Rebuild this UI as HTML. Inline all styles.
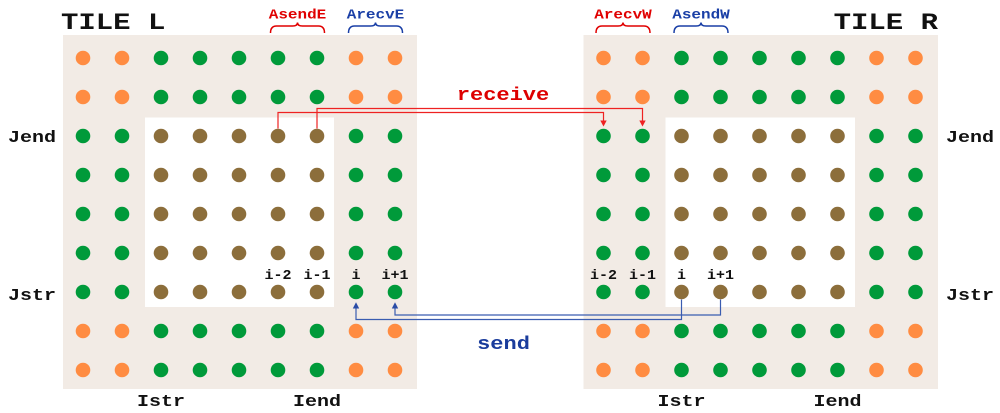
<!DOCTYPE html>
<html>
<head>
<meta charset="utf-8">
<style>
html,body{margin:0;padding:0;background:#fff;}
svg{display:block;}
text{font-family:"Liberation Mono","DejaVu Sans Mono",monospace;font-weight:bold;}
</style>
</head>
<body>
<svg width="1000" height="413" viewBox="0 0 1000 413" xmlns="http://www.w3.org/2000/svg">
  <!-- tile backgrounds -->
  <rect x="63" y="35" width="354" height="354" fill="#f2ebe5"/>
  <rect x="583.5" y="35" width="354.5" height="354" fill="#f2ebe5"/>
  <!-- inner white boxes -->
  <rect x="145" y="117.5" width="189" height="189.5" fill="#fff"/>
  <rect x="665.5" y="117.5" width="189.5" height="189.5" fill="#fff"/>

  <g id="dots">
  <g fill="#ff8c42">
    <circle cx="83" cy="58" r="7.3"/><circle cx="122" cy="58" r="7.3"/><circle cx="356" cy="58" r="7.3"/><circle cx="395" cy="58" r="7.3"/>
    <circle cx="83" cy="97" r="7.3"/><circle cx="122" cy="97" r="7.3"/><circle cx="356" cy="97" r="7.3"/><circle cx="395" cy="97" r="7.3"/>
    <circle cx="83" cy="331" r="7.3"/><circle cx="122" cy="331" r="7.3"/><circle cx="356" cy="331" r="7.3"/><circle cx="395" cy="331" r="7.3"/>
    <circle cx="83" cy="370" r="7.3"/><circle cx="122" cy="370" r="7.3"/><circle cx="356" cy="370" r="7.3"/><circle cx="395" cy="370" r="7.3"/>
  </g>
  <g fill="#009a3a">
    <circle cx="161" cy="58" r="7.3"/><circle cx="200" cy="58" r="7.3"/><circle cx="239" cy="58" r="7.3"/><circle cx="278" cy="58" r="7.3"/><circle cx="317" cy="58" r="7.3"/>
    <circle cx="161" cy="97" r="7.3"/><circle cx="200" cy="97" r="7.3"/><circle cx="239" cy="97" r="7.3"/><circle cx="278" cy="97" r="7.3"/><circle cx="317" cy="97" r="7.3"/>
    <circle cx="161" cy="331" r="7.3"/><circle cx="200" cy="331" r="7.3"/><circle cx="239" cy="331" r="7.3"/><circle cx="278" cy="331" r="7.3"/><circle cx="317" cy="331" r="7.3"/>
    <circle cx="161" cy="370" r="7.3"/><circle cx="200" cy="370" r="7.3"/><circle cx="239" cy="370" r="7.3"/><circle cx="278" cy="370" r="7.3"/><circle cx="317" cy="370" r="7.3"/>
    <circle cx="83" cy="136" r="7.3"/><circle cx="122" cy="136" r="7.3"/><circle cx="356" cy="136" r="7.3"/><circle cx="395" cy="136" r="7.3"/>
    <circle cx="83" cy="175" r="7.3"/><circle cx="122" cy="175" r="7.3"/><circle cx="356" cy="175" r="7.3"/><circle cx="395" cy="175" r="7.3"/>
    <circle cx="83" cy="214" r="7.3"/><circle cx="122" cy="214" r="7.3"/><circle cx="356" cy="214" r="7.3"/><circle cx="395" cy="214" r="7.3"/>
    <circle cx="83" cy="253" r="7.3"/><circle cx="122" cy="253" r="7.3"/><circle cx="356" cy="253" r="7.3"/><circle cx="395" cy="253" r="7.3"/>
    <circle cx="83" cy="292" r="7.3"/><circle cx="122" cy="292" r="7.3"/><circle cx="356" cy="292" r="7.3"/><circle cx="395" cy="292" r="7.3"/>
  </g>
  <g fill="#8c6e3b">
    <circle cx="161" cy="136" r="7.3"/><circle cx="200" cy="136" r="7.3"/><circle cx="239" cy="136" r="7.3"/><circle cx="278" cy="136" r="7.3"/><circle cx="317" cy="136" r="7.3"/>
    <circle cx="161" cy="175" r="7.3"/><circle cx="200" cy="175" r="7.3"/><circle cx="239" cy="175" r="7.3"/><circle cx="278" cy="175" r="7.3"/><circle cx="317" cy="175" r="7.3"/>
    <circle cx="161" cy="214" r="7.3"/><circle cx="200" cy="214" r="7.3"/><circle cx="239" cy="214" r="7.3"/><circle cx="278" cy="214" r="7.3"/><circle cx="317" cy="214" r="7.3"/>
    <circle cx="161" cy="253" r="7.3"/><circle cx="200" cy="253" r="7.3"/><circle cx="239" cy="253" r="7.3"/><circle cx="278" cy="253" r="7.3"/><circle cx="317" cy="253" r="7.3"/>
    <circle cx="161" cy="292" r="7.3"/><circle cx="200" cy="292" r="7.3"/><circle cx="239" cy="292" r="7.3"/><circle cx="278" cy="292" r="7.3"/><circle cx="317" cy="292" r="7.3"/>
  </g>
  </g>
  <use href="#dots" transform="translate(520.5,0)"/>

  <!-- braces -->
  <g fill="none" stroke-width="1.5">
    <path d="M270.5,33 Q270.5,26 276.5,26 L292.5,26 Q297.5,26 297.5,22.5 Q297.5,26 302.5,26 L318.5,26 Q324.5,26 324.5,33" stroke="#e00000"/>
    <path d="M348.5,33 Q348.5,26 354.5,26 L370.5,26 Q375.5,26 375.5,22.5 Q375.5,26 380.5,26 L396.5,26 Q402.5,26 402.5,33" stroke="#1a3fa6"/>
    <path d="M596,33 Q596,26 602,26 L618,26 Q623,26 623,22.5 Q623,26 628,26 L644,26 Q650,26 650,33" stroke="#e00000"/>
    <path d="M674,33 Q674,26 680,26 L696,26 Q701,26 701,22.5 Q701,26 706,26 L722,26 Q728,26 728,33" stroke="#1a3fa6"/>
  </g>

  <!-- receive connectors -->
  <g fill="none" stroke="#e22" stroke-width="1.2">
    <polyline points="278,128.5 278,112.5 603.5,112.5 603.5,121"/>
    <polyline points="317,128.5 317,108.5 642.5,108.5 642.5,121"/>
  </g>
  <g fill="#e22">
    <polygon points="600.3,120.5 606.7,120.5 603.5,126.5"/>
    <polygon points="639.3,120.5 645.7,120.5 642.5,126.5"/>
  </g>

  <!-- send connectors -->
  <g fill="none" stroke="#3a5cb0" stroke-width="1.2">
    <polyline points="681.5,299.5 681.5,319.5 356,319.5 356,308"/>
    <polyline points="720.5,299.5 720.5,315 395,315 395,308"/>
  </g>
  <g fill="#2a4ca6">
    <polygon points="352.8,308.5 359.2,308.5 356,302.3"/>
    <polygon points="391.8,308.5 398.2,308.5 395,302.3"/>
  </g>

  <!-- titles (slightly squashed to mimic Courier proportions) -->
  <text transform="translate(61,29) scale(1,0.8)" font-size="29" fill="#111">TILE L</text>
  <text transform="translate(938,29) scale(1,0.8)" font-size="29" fill="#111" text-anchor="end">TILE R</text>

  <!-- brace labels -->
  <g font-size="16" text-anchor="middle">
    <text transform="translate(297.5,18.5) scale(1,0.85)" fill="#e00000">AsendE</text>
    <text transform="translate(375.5,18.5) scale(1,0.85)" fill="#1a3fa6">ArecvE</text>
    <text transform="translate(623,18.5) scale(1,0.85)" fill="#e00000">ArecvW</text>
    <text transform="translate(701,18.5) scale(1,0.85)" fill="#1a3fa6">AsendW</text>
  </g>

  <!-- receive / send -->
  <text transform="translate(503,100) scale(1,0.85)" font-size="22" fill="#dd0000" text-anchor="middle">receive</text>
  <text transform="translate(503.5,349) scale(1,0.85)" font-size="22" fill="#1a3c9c" text-anchor="middle">send</text>

  <!-- J labels -->
  <g font-size="20" fill="#111">
    <text transform="translate(8,142) scale(1,0.85)">Jend</text>
    <text transform="translate(8,300) scale(1,0.85)">Jstr</text>
    <text transform="translate(946,142) scale(1,0.85)">Jend</text>
    <text transform="translate(946,300) scale(1,0.85)">Jstr</text>
  </g>
  <!-- I labels -->
  <g font-size="20" fill="#111" text-anchor="middle">
    <text transform="translate(161,406) scale(1,0.85)">Istr</text>
    <text transform="translate(317,406) scale(1,0.85)">Iend</text>
    <text transform="translate(681.5,406) scale(1,0.85)">Istr</text>
    <text transform="translate(837.5,406) scale(1,0.85)">Iend</text>
  </g>
  <!-- index labels -->
  <g font-size="15" fill="#111" text-anchor="middle">
    <text transform="translate(278,279) scale(1,0.9)">i-2</text>
    <text transform="translate(317,279) scale(1,0.9)">i-1</text>
    <text transform="translate(356,279) scale(1,0.9)">i</text>
    <text transform="translate(395,279) scale(1,0.9)">i+1</text>
    <text transform="translate(603.5,279) scale(1,0.9)">i-2</text>
    <text transform="translate(642.5,279) scale(1,0.9)">i-1</text>
    <text transform="translate(681.5,279) scale(1,0.9)">i</text>
    <text transform="translate(720.5,279) scale(1,0.9)">i+1</text>
  </g>
</svg>
</body>
</html>
